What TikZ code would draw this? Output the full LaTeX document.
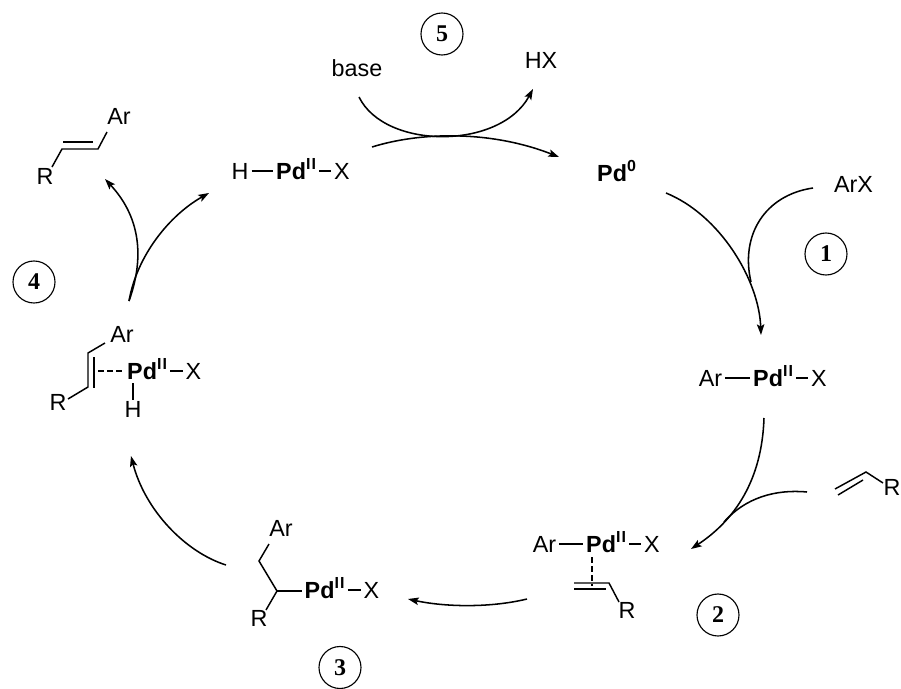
\documentclass[tikz,border=0pt]{standalone}
\usepackage{fontspec}
\setmainfont{Liberation Sans}
\newfontfamily\numfont{Liberation Serif}
\usetikzlibrary{arrows.meta}
\newcommand{\PdII}{{\bfseries Pd\raisebox{0.42em}{\fontsize{12}{12}\selectfont I\kern0.9pt I}}}
\newcommand{\PdO}{{\bfseries Pd\raisebox{0.42em}{\fontsize{12}{12}\selectfont 0}}}
\tikzset{
  lab/.style={inner xsep=2.2pt,inner ysep=0pt,font=\fontsize{17.5}{17.5}\selectfont,text height=12.5pt,text depth=0pt,anchor=center},
  pdn/.style={lab,anchor=west},
  bond/.style={line width=1.1pt,line cap=butt},
  dbond/.style={bond,dash pattern=on 4.2pt off 2.6pt},
  arr/.style={line width=1.15pt,-{Stealth[length=8pt,width=5.6pt,inset=1.6pt]}},
  tail/.style={line width=1.15pt},
  num/.style={circle,draw,line width=0.85pt,minimum size=31.5pt,inner sep=0pt,font=\numfont\bfseries\fontsize{18}{18}\selectfont}
}
\begin{document}
\begin{tikzpicture}[x=0.75pt,y=-0.75pt]
\useasboundingbox (0,0) rectangle (901,689);
% step circles
\node[num] (n1) at (826,254) {1};
\node[num] (n2) at (718,615) {2};
\node[num] (n3) at (340,667.5) {3};
\node[num] (n4) at (34,282) {4};
\node[num] (n5) at (442,34) {5};
% free reagents
\node[lab] (base) at (357,68) {base};
\node[lab] (hx) at (541,60) {HX};
\node[lab] (arx) at (853.5,184) {ArX};
\node[pdn] (pd0) at (594,173) {\PdO};
% H-Pd-X
\node[lab] (hA) at (240,171) {H};
\node[pdn] (pdA) at (273,171) {\PdII};
\node[lab] (xA) at (342,171) {X};
\draw[bond] (hA) -- (pdA);
\draw[bond] (pdA) -- (xA);
% Ar-Pd-X
\node[lab] (arB) at (710.5,378) {Ar};
\node[pdn] (pdB) at (750,378) {\PdII};
\node[lab] (xB) at (819,378) {X};
\draw[bond] (arB) -- (pdB);
\draw[bond] (pdB) -- (xB);
% Ar-Pd-X alkene complex
\node[lab] (arC) at (544.5,544) {Ar};
\node[pdn] (pdC) at (583,544) {\PdII};
\node[lab] (xC) at (652,544) {X};
\node[lab] (rC) at (627,610) {R};
\draw[bond] (arC) -- (pdC);
\draw[bond] (pdC) -- (xC);
\coordinate (c1) at (592,557);
\coordinate (c2) at (592,586);
\coordinate (c3) at (574,583);
\coordinate (c4) at (609,583);
\coordinate (c5) at (619,602);
\coordinate (c6) at (574,589);
\coordinate (c7) at (606,589);
\draw[dbond] (c1) -- (c2);
\draw[bond] (c3) -- (c4) -- (c5);
\draw[bond] (c6) -- (c7);
% alkyl Pd
\node[lab] (arD) at (281,528) {Ar};
\node[lab] (rD) at (259,618) {R};
\node[pdn] (pdD) at (301.5,590) {\PdII};
\node[lab] (xD) at (371.5,590) {X};
\coordinate (d1) at (269,544);
\coordinate (d2) at (259,561);
\coordinate (d3) at (277,591);
\coordinate (d4) at (266,610);
\draw[bond] (d1) -- (d2) -- (d3) -- (d4);
\draw[bond] (d3) -- (pdD.west |- d3);
\draw[bond] (pdD) -- (xD);
% hydride alkene complex
\node[lab] (arE) at (122,334) {Ar};
\node[lab] (rE) at (58,402) {R};
\node[pdn] (pdE) at (124,371) {\PdII};
\node[lab] (xE) at (193.5,371) {X};
\node[lab] (hE) at (133,409) {H};
\coordinate (e1) at (105,343);
\coordinate (e2) at (88,353);
\coordinate (e3) at (88,387);
\coordinate (e4) at (68,399);
\coordinate (e5) at (94,357);
\coordinate (e6) at (94,388);
\coordinate (e7) at (98,371);
\draw[bond] (e1) -- (e2) -- (e3) -- (e4);
\draw[bond] (e5) -- (e6);
\draw[dbond] (e7) -- (pdE.west);
\draw[bond] (pdE) -- (xE);
\coordinate (e8) at (133,383);
\draw[bond] (e8) -- (e8 |- hE.north);
% product
\node[lab] (arF) at (119,116) {Ar};
\node[lab] (rF) at (45,176) {R};
\coordinate (f1) at (107,132);
\coordinate (f2) at (98,149);
\coordinate (f3) at (62,149);
\coordinate (f4) at (52,167);
\coordinate (f5) at (63,142);
\coordinate (f6) at (93,142);
\draw[bond] (f1) -- (f2) -- (f3) -- (f4);
\draw[bond] (f5) -- (f6);
% free alkene
\node[lab,inner xsep=0pt] (rG) at (892,487) {R};
\coordinate (g1) at (883,483);
\coordinate (g2) at (866,472);
\coordinate (g3) at (835,489);
\coordinate (g4) at (838,495);
\coordinate (g5) at (863,480);
\draw[bond] (g1) -- (g2) -- (g3);
\draw[bond] (g4) -- (g5);
% cycle arrows
\coordinate (s1) at (666,193);
\coordinate (t1) at (761,335);
\draw[arr] (s1) .. controls (720,215) and (759,280) .. (t1);
\coordinate (s1b) at (813,188);
\coordinate (t1b) at (751,282);
\draw[tail] (s1b) .. controls (765,195) and (740,235) .. (t1b);
\coordinate (s2) at (764,418);
\coordinate (t2) at (691,549);
\draw[arr] (s2) .. controls (762,480) and (735,520) .. (t2);
\coordinate (s2b) at (807,492);
\coordinate (t2b) at (724,522);
\draw[tail] (s2b) .. controls (775,489) and (745,498) .. (t2b);
\coordinate (s3) at (527,599);
\coordinate (t3) at (408,599);
\draw[arr] (s3) .. controls (490,608) and (445,607) .. (t3);
\coordinate (s4) at (226,565);
\coordinate (t4) at (131,456);
\draw[arr] (s4) .. controls (185,552) and (145,510) .. (t4);
\coordinate (s5) at (129,301);
\coordinate (t5) at (209,193);
\coordinate (t5b) at (105,179);
\draw[arr] (s5) .. controls (137,255) and (170,215) .. (t5);
\draw[arr] (s5) .. controls (143,262) and (143,220) .. (t5b);
\coordinate (s6) at (372,147);
\coordinate (t6) at (559,157);
\draw[arr] (s6) .. controls (420,132) and (490,130) .. (t6);
\coordinate (s7) at (359,97);
\coordinate (t7) at (533,89);
\draw[arr] (s7) .. controls (385,150) and (500,150) .. (t7);
\end{tikzpicture}
\end{document}
